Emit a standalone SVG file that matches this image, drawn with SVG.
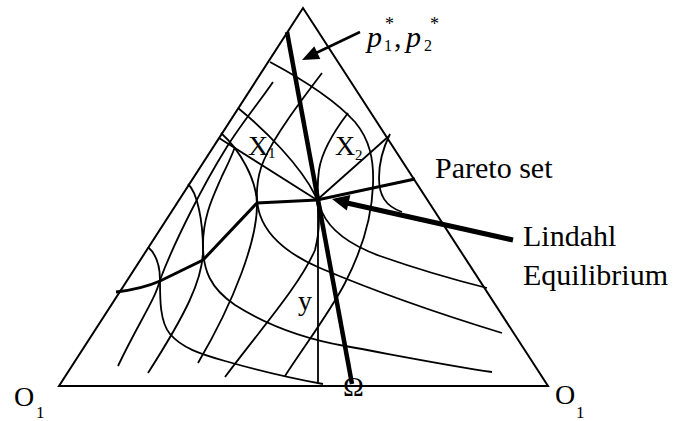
<svg xmlns="http://www.w3.org/2000/svg" width="675" height="421" viewBox="0 0 675 421">
<style>
.c{fill:none;stroke:#000;stroke-width:1.8;stroke-linecap:butt;stroke-linejoin:round}
text{font-family:'Liberation Serif','DejaVu Serif','Times New Roman',serif;fill:#000}
</style>
<rect width="675" height="421" fill="#fff"/>
<g id="triangle">
<path d="M303,8 L59,386 L548,386 Z" fill="none" stroke="#000" stroke-width="2"/>
</g>
<g id="curves">
<path class="c" d="M273,82 C258,104 240,125 225,150 C205,182 175,240 160,280 C160,300 160,322 170,334 C182,348 200,354 225,361 C260,371 295,379 323,384"/>
<path class="c" d="M235,147 C232,155 229,162 222,176 C214,195 203,215 203,245 C203,270 210,288 235,305 C265,324 300,338 345,346 C400,356 450,366 492,372"/>
<path class="c" d="M322,73 C300,102 275,135 264,160 C256,178 255,200 260,215 C268,238 290,255 320,268 C360,285 420,308 502,333"/>
<path class="c" d="M348,113 C335,130 322,150 319,170 C317,185 317,200 322,212 C330,230 350,245 380,256 C420,270 455,280 487,288"/>
<path class="c" d="M390,134 C383,148 379,162 379,178 C379,195 385,206 402,212"/>
<path class="c" d="M148,247 C156,254 160,265 160,280 C155,300 140,320 118,366"/>
<path class="c" d="M188,184 C197,192 203,220 203,250 C203,280 185,315 148,373"/>
<path class="c" d="M221,133 C240,150 257,180 257,205 C257,240 235,300 198,363"/>
<path class="c" d="M238,108 C265,130 300,165 315,195 C320,210 320,230 315,250 C300,285 260,330 225,377"/>
<path class="c" d="M270,62 C300,78 335,100 355,122 C370,140 374,160 373,185 C372,215 362,250 345,283 C330,312 305,345 285,376"/>
<path class="c" stroke-width="1.5" d="M317,200 L219,138 M317,200 L389,136"/>
<path class="c" stroke-width="1.4" d="M318,200 L318,384"/>
</g>
<g id="pareto">
<path d="M116,292 Q142,289 160,281 L203,260 L257,203 L317,200 L415,179" fill="none" stroke="#000" stroke-width="3" stroke-linejoin="miter"/>
</g>
<g id="price-line">
<path d="M287,32 L352,384" stroke="#000" stroke-width="4.5"/>
</g>
<g id="arrows">
<path d="M360,32 L316,53" stroke="#000" stroke-width="2.5"/>
<path d="M302,60 L314.3,46.3 L320.3,58.9 Z" fill="#000"/>
<path d="M513,240 L347,203" stroke="#000" stroke-width="5"/>
<path d="M332,199 L350.4,195 L346.8,210.6 Z" fill="#000"/>
</g>
<g id="labels" font-family="Liberation Serif, DejaVu Serif, serif">
<text x="367" y="47" font-size="30" font-style="italic">p</text>
<text x="384" y="51" font-size="16">1</text>
<text x="385" y="30" font-size="18">*</text>
<text x="394" y="47" font-size="30">,</text>
<text x="406" y="47" font-size="30" font-style="italic">p</text>
<text x="424" y="51" font-size="16">2</text>
<text x="430" y="30" font-size="18">*</text>
<text x="248" y="155" font-size="28">X</text>
<text x="268" y="158" font-size="15">1</text>
<text x="335" y="155" font-size="28">X</text>
<text x="355" y="160" font-size="15">2</text>
<text x="435" y="178" font-size="30">Pareto set</text>
<text x="523" y="246" font-size="30">Lindahl</text>
<text x="523" y="285" font-size="30">Equilibrium</text>
<text x="298" y="310" font-size="28">y</text>
<text x="343" y="396" font-size="28">Ω</text>
<text x="14" y="406" font-size="28">O</text>
<text x="36" y="418" font-size="17">1</text>
<text x="555" y="404" font-size="28">O</text>
<text x="576" y="418" font-size="17">1</text>
</g>
</svg>
